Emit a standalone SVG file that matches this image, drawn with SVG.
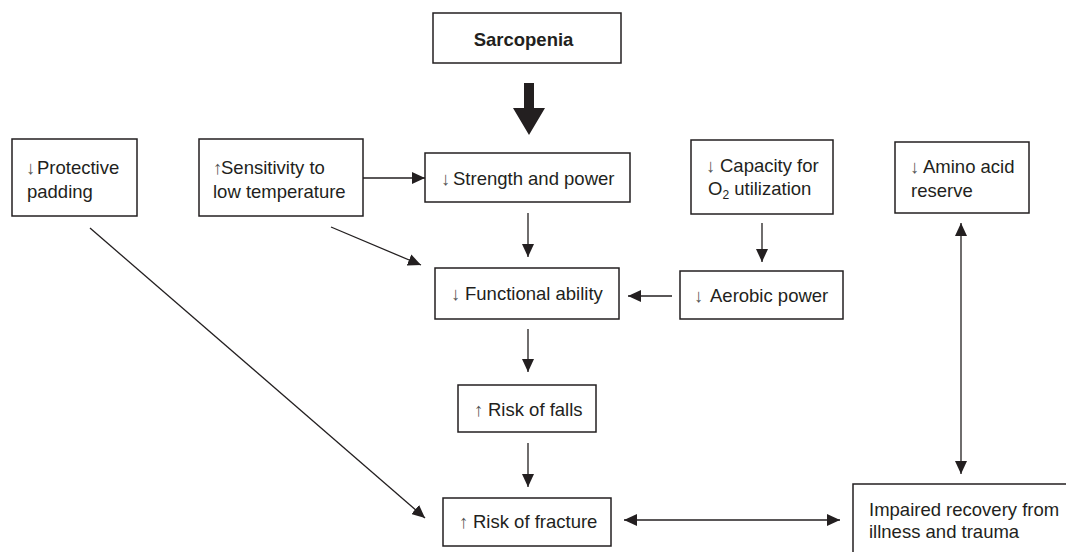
<svg xmlns="http://www.w3.org/2000/svg" width="1066" height="552" viewBox="0 0 1066 552">
<style>
.box{fill:#fff;stroke:#231f20;stroke-width:1.5}
.t{font-family:"Liberation Sans",Arial,sans-serif;font-size:18.5px;fill:#231f20}
.b{font-weight:bold}
.ar{fill:#555}
.c{stroke:#231f20;stroke-width:1.3;fill:none}
</style>
<defs>
<marker id="ah" markerUnits="userSpaceOnUse" markerWidth="13" markerHeight="12" refX="13" refY="6" orient="auto-start-reverse">
<path d="M0,0 L13,6 L0,12 Z" fill="#231f20"/>
</marker>
</defs>
<rect width="1066" height="552" fill="#fff"/>

<g id="sarcopenia">
<rect class="box" x="433" y="13" width="188" height="50"/>
<text class="t b" x="523.5" y="46" text-anchor="middle">Sarcopenia</text>
</g>

<g id="protective">
<rect class="box" x="12" y="139" width="125" height="77"/>
<text class="t" y="174"><tspan class="ar" x="26">↓</tspan><tspan x="37">Protective</tspan></text>
<text class="t" x="27" y="198">padding</text>
</g>

<g id="sensitivity">
<rect class="box" x="199" y="139" width="164" height="77"/>
<text class="t" y="174"><tspan class="ar" x="213">↑</tspan><tspan x="221">Sensitivity to</tspan></text>
<text class="t" x="213" y="198">low temperature</text>
</g>

<g id="strength">
<rect class="box" x="425" y="153" width="205" height="49"/>
<text class="t" y="185"><tspan class="ar" x="441">↓</tspan><tspan x="453">Strength and power</tspan></text>
</g>

<g id="capacity">
<rect class="box" x="691" y="140" width="142" height="74"/>
<text class="t" y="172"><tspan class="ar" x="706">↓</tspan><tspan x="720">Capacity for</tspan></text>
<text class="t" x="708" y="195">O<tspan font-size="12" dy="4">2</tspan><tspan dy="-4"> utilization</tspan></text>
</g>

<g id="amino">
<rect class="box" x="895" y="142" width="134" height="71"/>
<text class="t" y="173"><tspan class="ar" x="910">↓</tspan><tspan x="923">Amino acid</tspan></text>
<text class="t" x="911" y="197">reserve</text>
</g>

<g id="functional">
<rect class="box" x="435" y="268" width="184" height="51"/>
<text class="t" y="300"><tspan class="ar" x="451">↓</tspan><tspan x="465">Functional ability</tspan></text>
</g>

<g id="aerobic">
<rect class="box" x="680" y="271" width="163" height="48"/>
<text class="t" y="302"><tspan class="ar" x="694">↓</tspan><tspan x="710">Aerobic power</tspan></text>
</g>

<g id="falls">
<rect class="box" x="458" y="385" width="138" height="47"/>
<text class="t" y="416"><tspan class="ar" x="474">↑</tspan><tspan x="488">Risk of falls</tspan></text>
</g>

<g id="fracture">
<rect class="box" x="443" y="498" width="168" height="48"/>
<text class="t" y="528"><tspan class="ar" x="459">↑</tspan><tspan x="473">Risk of fracture</tspan></text>
</g>

<g id="impaired">
<rect class="box" x="853" y="484" width="230" height="100"/>
<text class="t" x="869" y="516">Impaired recovery from</text>
<text class="t" x="869" y="538">illness and trauma</text>
</g>

<g id="connectors">
<polygon points="524,83 534,83 534,108 545,108 529,135 513,108 524,108" fill="#231f20"/>
<line class="c" x1="363" y1="178" x2="425" y2="178" marker-end="url(#ah)"/>
<line class="c" x1="528" y1="213" x2="528" y2="257" marker-end="url(#ah)"/>
<line class="c" x1="331" y1="227" x2="421" y2="265" marker-end="url(#ah)"/>
<line class="c" x1="762" y1="223" x2="762" y2="262" marker-end="url(#ah)"/>
<line class="c" x1="672" y1="296" x2="628" y2="296" marker-end="url(#ah)"/>
<line class="c" x1="528" y1="329" x2="528" y2="372" marker-end="url(#ah)"/>
<line class="c" x1="528" y1="443" x2="528" y2="487" marker-end="url(#ah)"/>
<line class="c" x1="90" y1="228" x2="425" y2="518" marker-end="url(#ah)"/>
<line class="c" x1="624" y1="520" x2="840" y2="520" marker-start="url(#ah)" marker-end="url(#ah)"/>
<line class="c" x1="961" y1="223" x2="961" y2="474" marker-start="url(#ah)" marker-end="url(#ah)"/>
</g>
</svg>
